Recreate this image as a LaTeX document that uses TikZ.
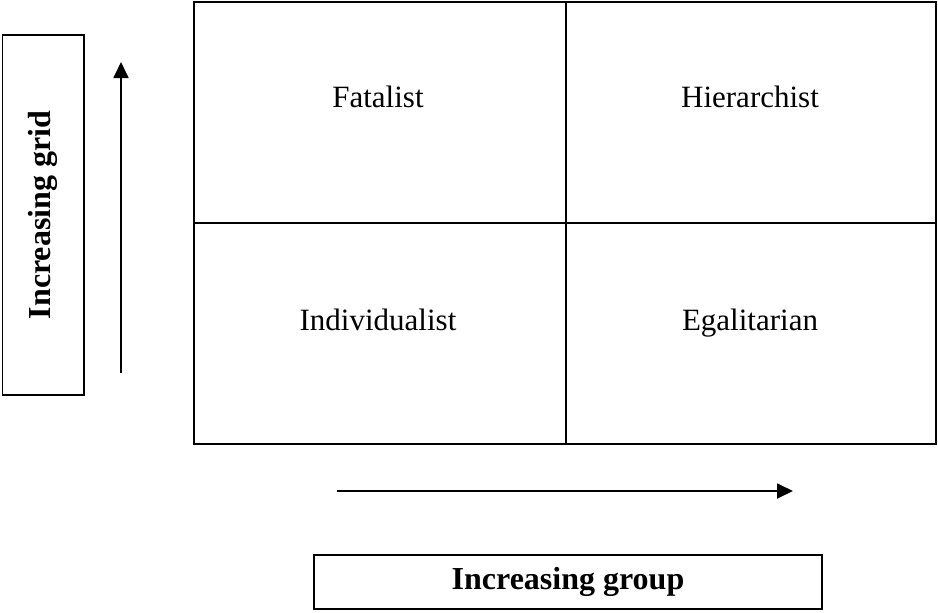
\documentclass[tikz,border=0pt]{standalone}
\usepackage{fontspec}
\setmainfont{Liberation Serif}
\usetikzlibrary{arrows.meta}
\tikzset{
  celltext/.style={font=\fontsize{15.5}{18}\selectfont, anchor=base},
  axisbox/.style={draw, line width=0.9pt, inner sep=0pt, font=\fontsize{16}{19}\selectfont\bfseries},
  growarrow/.style={line width=0.9pt, -{Triangle[length=8pt,width=7.5pt]}}
}
\begin{document}
\begin{tikzpicture}[x=0.5pt, y=-0.5pt]
    \useasboundingbox (0,0) rectangle (938,612);

    % the four cells
    \draw[line width=1.2pt] (194,2) rectangle (936,444);
    \draw[line width=1.2pt] (566,2) -- (566,444);
    \draw[line width=1.2pt] (194,223) -- (936,223);

    \node[celltext] (fatalist) at (378,107) {Fatalist};
    \node[celltext] (hierarchist) at (750,107) {Hierarchist};
    \node[celltext] (individualist) at (378,330) {Individualist};
    \node[celltext] (egalitarian) at (750,330) {Egalitarian};

    % grid axis
    \node[axisbox, rotate=90, minimum width=180pt, minimum height=40.75pt] (gridbox) at (43.25,215) {Increasing grid};
    \coordinate (gridlow) at (121,373);
    \coordinate (gridhigh) at (121,62);
    \draw[growarrow] (gridlow) -- (gridhigh);

    % group axis
    \coordinate (grouplow) at (337,491);
    \coordinate (grouphigh) at (793,491);
    \draw[growarrow] (grouplow) -- (grouphigh);
    \node[axisbox, minimum width=254pt, minimum height=27pt] (groupbox) at (568,582) {Increasing group};
\end{tikzpicture}
\end{document}
